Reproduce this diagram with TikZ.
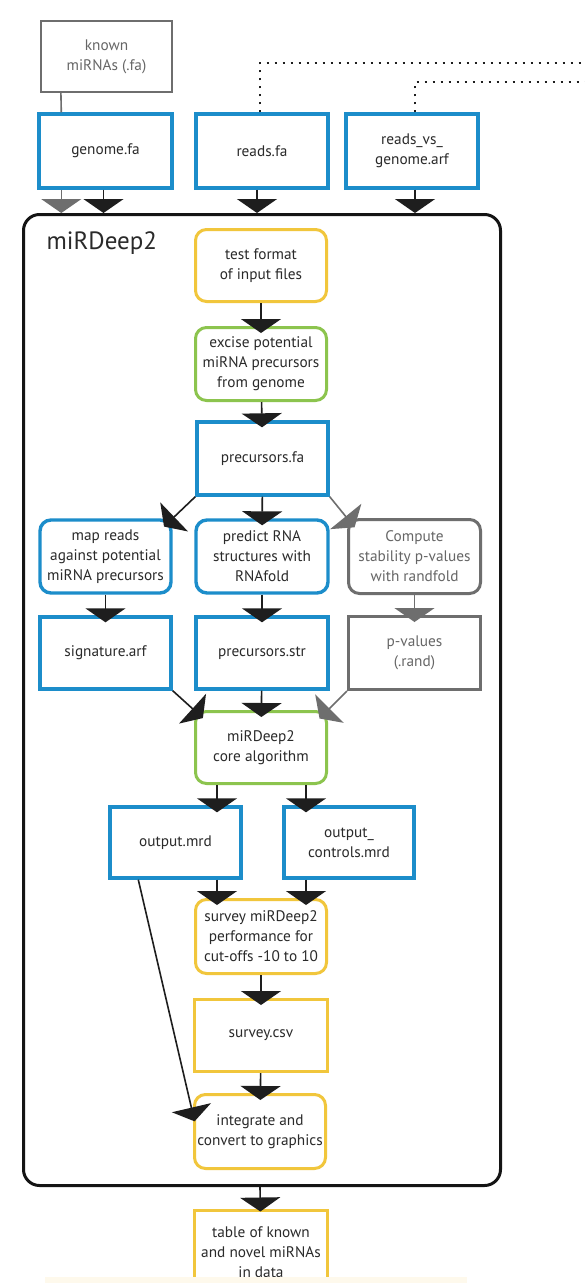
\documentclass[tikz,border=0pt]{standalone}
\usepackage{fontspec}
\setmainfont{PT Sans}
\usetikzlibrary{arrows.meta,calc}

\definecolor{bxblue}{HTML}{1C8DCA}
\definecolor{bxyellow}{HTML}{F1C63C}
\definecolor{bxgreen}{HTML}{8CC44E}
\definecolor{bxgray}{HTML}{6E6E6E}
\definecolor{txt}{HTML}{2A2A2A}
\definecolor{txtgray}{HTML}{666666}
\definecolor{lnk}{HTML}{1E1E1E}

\tikzset{
  wh/.style 2 args={minimum width=#1pt, minimum height=#2pt},
  base/.style={rectangle, fill=white, align=center, text=txt, inner sep=2pt,
    font=\fontsize{15.3pt}{20pt}\selectfont},
  filebox/.style={base, draw=bxblue, line width=3.4pt},
  inbox/.style={base, draw=bxgray, line width=2.2pt, text=txtgray},
  grayfile/.style={base, draw=bxgray, line width=3pt, text=txtgray},
  stepbox/.style={base, rounded corners=11pt, line width=3pt},
  bluestep/.style={stepbox, draw=bxblue, line width=3.4pt},
  yellowstep/.style={stepbox, draw=bxyellow},
  greenstep/.style={stepbox, draw=bxgreen},
  graystep/.style={stepbox, draw=bxgray, text=txtgray},
  yellowfile/.style={base, draw=bxyellow, line width=3pt},
  flow/.style={draw=lnk, line width=1.6pt,
    -{Triangle[width=40pt,length=14pt]}, shorten >=-7pt},
  grayflow/.style={flow, draw=bxgray},
  feed/.style={draw=lnk, line width=1.6pt,
    -{Triangle[width=40pt,length=14pt]}},
  grayfeed/.style={feed, draw=bxgray},
  diag/.style={flow, shorten >=-12pt},
  graydiag/.style={diag, draw=bxgray},
  dotline/.style={draw=lnk, line width=2.4pt, dash pattern=on 2.4pt off 5.6pt},
}

\begin{document}
\begin{tikzpicture}[x=1pt, y=-1pt]
\useasboundingbox[fill=white] (0,0) rectangle (585,1283);

% main pipeline frame
\node[draw=black!92, line width=3pt, rounded corners=16pt,
      minimum width=477pt, minimum height=971pt] (mirdeep) at (262,700) {};
\node[anchor=west, text=txt, font=\fontsize{25pt}{28pt}\selectfont] (title) at (43,243) {miRDeep2};

% inputs
\node[inbox, wh={131}{71}] (known) at (106.5,56.5) {known\\miRNAs (.fa)};
\node[filebox, wh={133}{74}] (genome) at (105.5,151) {genome.fa};
\node[filebox, wh={132}{74}] (reads) at (262,151) {reads.fa};
\node[filebox, wh={132}{74}] (readsvs) at (412,151) {reads\_vs\_\\genome.arf};

% steps and intermediate files
\node[yellowstep, wh={131}{72}] (test) at (261,265.5) {test format\\of input files};
\node[greenstep, wh={131}{73}] (excise) at (261,364) {excise potential\\miRNA precursors\\from genome};
\node[filebox, wh={131}{73}] (precfa) at (262.5,458.5) {precursors.fa};

\node[bluestep, wh={131}{73}] (map) at (105.5,556.5) {map reads\\against potential\\miRNA precursors};
\node[bluestep, wh={132}{73}] (predict) at (262,556.5) {predict RNA\\structures with\\RNAfold};
\node[graystep, wh={132}{74}] (compute) at (414.5,556.5) {Compute\\stability p-values\\with randfold};

\node[filebox, wh={131}{72}] (sig) at (105.5,653) {signature.arf};
\node[filebox, wh={132}{72}] (precstr) at (262,653) {precursors.str};
\node[grayfile, wh={132}{73}] (pval) at (414.5,653) {p-values\\(.rand)};

\node[greenstep, wh={131}{72}] (core) at (261,747.5) {miRDeep2\\core algorithm};

\node[filebox, wh={131}{71}] (outmrd) at (175.5,842.5) {output.mrd};
\node[filebox, wh={130}{71}] (outctl) at (349,842.5) {output\_\\controls.mrd};

\node[yellowstep, wh={131}{74}] (survey) at (261,936.5) {survey miRDeep2\\performance for\\cut-offs -10 to 10};
\node[yellowfile, wh={133}{72}] (csv) at (261,1035.5) {survey.csv};
\node[yellowstep, wh={131}{74}] (integ) at (260,1131.5) {integrate and\\convert to graphics};

\node[yellowfile, wh={133}{84}] (table) at (261,1252) {table of known\\and novel miRNAs\\in data};
\fill[bxyellow!10] (45,1277) rectangle (467,1290);

% input feeds
\draw[draw=bxgray, line width=1.6pt] ([xshift=21pt]known.south west) -- ([xshift=24pt]genome.north west);
\draw[grayfeed] ([xshift=24pt]genome.south west) -- ([xshift=24pt]genome.south west |- mirdeep.north);
\draw[feed] ([xshift=-2pt]genome.south) -- ([xshift=-2pt]genome.south |- mirdeep.north);
\draw[feed] ([xshift=-5pt]reads.south) -- ([xshift=-5pt]reads.south |- mirdeep.north);
\draw[feed] ([xshift=3pt]readsvs.south) -- ([xshift=3pt]readsvs.south |- mirdeep.north);

% dotted links leaving to the right
\coordinate (readsout) at (585,63);
\coordinate (readsvsout) at (585,82);
\draw[dotline] ([xshift=-2pt]reads.north) |- (readsout);
\draw[dotline] ([xshift=3pt]readsvs.north) |- (readsvsout);

% pipeline flow
\draw[flow] (test) -- (excise);
\draw[flow] (excise) -- (precfa);
\draw[flow] (precfa) -- (predict);
\draw[diag] (precfa.south west) -- (map.north east);
\draw[graydiag] (precfa.south east) -- (compute.north west);
\draw[flow] (map) -- (sig);
\draw[flow] (predict) -- (precstr);
\draw[grayflow] (compute) -- (pval);
\draw[diag] (sig.south east) -- (core.north west);
\draw[flow] (precstr) -- (core);
\draw[graydiag] (pval.south west) -- (core.north east);
\draw[flow] (core.south -| outmrd.south) ++(41.5,0) coordinate (c1) -- (c1 |- outmrd.north);
\draw[flow] (core.south -| outctl.south) ++(-43,0) coordinate (c2) -- (c2 |- outctl.north);
\draw[flow] (c1 |- outmrd.south) -- (c1 |- survey.north);
\draw[flow] (c2 |- outctl.south) -- (c2 |- survey.north);
\draw[flow] (survey) -- (csv);
\draw[flow] (csv) -- (integ);
\draw[flow] ([xshift=30pt]outmrd.south west) -- ([yshift=17pt]integ.west);
\draw[flow, shorten >=-3pt] (integ.south |- mirdeep.south) -- (table);
\end{tikzpicture}
\end{document}
